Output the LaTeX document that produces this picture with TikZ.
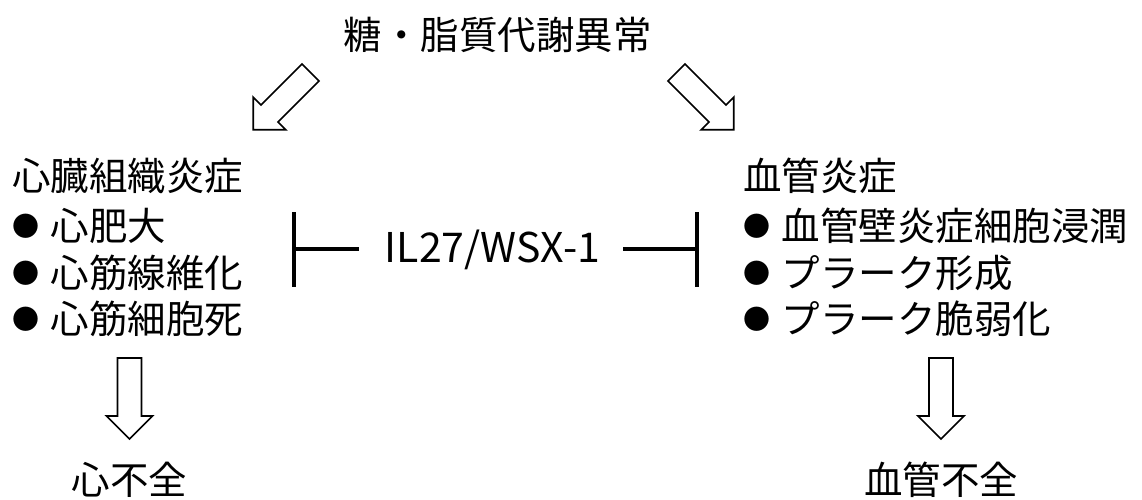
\documentclass[tikz,border=0pt]{standalone}
\usepackage{fontspec}
\newfontfamily\jp{Noto Sans CJK JP}
\newcommand\mybullet{\makebox[38.5pt][l]{\raisebox{4pt}{\fontsize{27}{27}\selectfont ●}}}
\begin{document}
\begin{tikzpicture}[x=1pt,y=-1pt,
  txt/.style={font=\jp\fontsize{38.5}{40}\selectfont, inner sep=0pt, anchor=base west, text=black},
  ctxt/.style={txt, anchor=base},
  iltxt/.style={font=\jp\fontsize{41}{42}\selectfont, inner sep=0pt, anchor=base, text=black},
  arrowline/.style={draw=black, line width=1.7pt, fill=white, line join=miter},
  inhline/.style={draw=black, line width=4.5pt, line cap=butt},
  pics/blkarrow/.style={code={
    \path[arrowline] (-12,0) -- (12,0) -- (12,58) -- (23,58) -- (0,81) -- (-23,58) -- (-12,58) -- cycle;
  }}]
\useasboundingbox (0,0) rectangle (1142,500);

% title
\node[ctxt] (title) at (497.5,50) {糖・脂質代謝異常};

% left block
\node[txt] (lh) at (12,190) {心臓組織炎症};
\node[txt] (l1) at (12,240) {\mybullet 心肥大};
\node[txt] (l2) at (12,287) {\mybullet 心筋線維化};
\node[txt] (l3) at (12,333) {\mybullet 心筋細胞死};

% right block
\node[txt] (rh) at (743,190) {血管炎症};
\node[txt] (r1) at (743,240) {\mybullet 血管壁炎症細胞浸潤};
\node[txt] (r2) at (743,287) {\mybullet プラーク形成};
\node[txt] (r3) at (743,333) {\mybullet プラーク脆弱化};

% bottom
\node[ctxt] (hf) at (129.5,494) {心不全};
\node[ctxt] (vf) at (941,494) {血管不全};

% center
\node[iltxt] (il) at (492.5,262) {IL27/WSX-1};

% inhibition
\coordinate (lend) at (359,249);
\coordinate (lbar) at (294,249);
\coordinate (rend) at (623,249);
\coordinate (rbar) at (697,249);
\draw[inhline] (lend) -- (lbar);
\draw[inhline] ([yshift=-37.5pt]lbar) -- ([yshift=37.5pt]lbar);
\draw[inhline] (rend) -- (rbar);
\draw[inhline] ([yshift=-37.5pt]rbar) -- ([yshift=37.5pt]rbar);

% block arrows
\pic[rotate=-45] (aL) at (310.5,72.5) {blkarrow};
\pic[rotate=45] (aR) at (676.5,72.5) {blkarrow};
\pic (dL) at (129.5,358) {blkarrow};
\pic (dR) at (941,358) {blkarrow};
\end{tikzpicture}
\end{document}
